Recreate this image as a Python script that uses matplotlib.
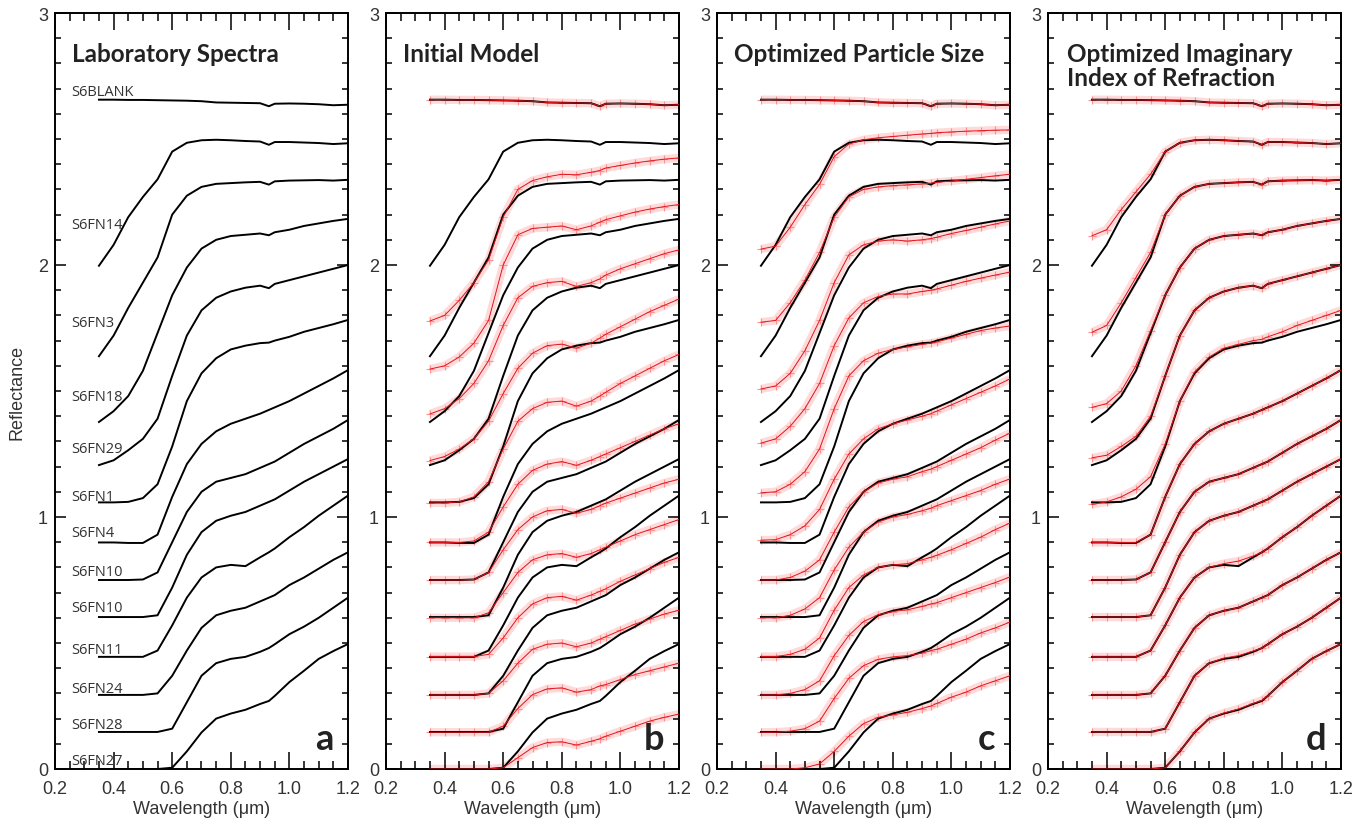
import matplotlib.pyplot as plt
from matplotlib.ticker import MultipleLocator, FixedLocator

# Wavelength grid (um) shared by all spectra
wavelength = [0.35, 0.40, 0.45, 0.50, 0.55, 0.60, 0.65, 0.70, 0.75, 0.80,
              0.85, 0.90, 0.93, 0.95, 1.00, 1.05, 1.10, 1.15, 1.20]

# Laboratory spectra (offset reflectance), top to bottom
lab_blank = [2.656, 2.656, 2.655, 2.655, 2.654, 2.653, 2.652, 2.650, 2.645, 2.644, 2.643, 2.642, 2.630, 2.640, 2.641, 2.640, 2.638, 2.634, 2.636]
lab_fn14 = [1.997, 2.08, 2.19, 2.27, 2.34, 2.45, 2.485, 2.495, 2.497, 2.495, 2.492, 2.49, 2.477, 2.488, 2.488, 2.486, 2.484, 2.48, 2.483]
lab_fn3 = [1.638, 1.72, 1.83, 1.93, 2.03, 2.20, 2.275, 2.31, 2.322, 2.325, 2.328, 2.33, 2.319, 2.332, 2.335, 2.336, 2.337, 2.335, 2.338]
lab_fn18 = [1.377, 1.42, 1.48, 1.58, 1.73, 1.88, 1.99, 2.065, 2.10, 2.115, 2.12, 2.125, 2.118, 2.13, 2.14, 2.155, 2.165, 2.175, 2.183]
lab_fn29 = [1.206, 1.225, 1.265, 1.31, 1.39, 1.56, 1.72, 1.82, 1.87, 1.895, 1.91, 1.918, 1.908, 1.925, 1.94, 1.955, 1.97, 1.985, 2.0]
lab_fn1 = [1.058, 1.058, 1.06, 1.075, 1.13, 1.28, 1.46, 1.57, 1.63, 1.665, 1.68, 1.69, 1.692, 1.70, 1.715, 1.735, 1.75, 1.765, 1.782]
lab_fn4 = [0.899, 0.899, 0.897, 0.897, 0.93, 1.08, 1.21, 1.29, 1.34, 1.37, 1.39, 1.41, 1.425, 1.435, 1.46, 1.49, 1.52, 1.55, 1.583]
lab_fn10a = [0.75, 0.75, 0.75, 0.752, 0.78, 0.90, 1.02, 1.10, 1.14, 1.155, 1.17, 1.195, 1.21, 1.22, 1.255, 1.29, 1.32, 1.35, 1.385]
lab_fn10b = [0.603, 0.603, 0.603, 0.603, 0.61, 0.72, 0.85, 0.94, 0.985, 1.005, 1.02, 1.045, 1.06, 1.07, 1.105, 1.14, 1.17, 1.20, 1.23]
lab_fn11 = [0.445, 0.445, 0.445, 0.445, 0.47, 0.57, 0.68, 0.76, 0.80, 0.81, 0.805, 0.84, 0.86, 0.875, 0.92, 0.96, 1.005, 1.045, 1.085]
lab_fn24 = [0.294, 0.294, 0.294, 0.294, 0.30, 0.37, 0.47, 0.56, 0.61, 0.628, 0.64, 0.665, 0.68, 0.69, 0.73, 0.76, 0.795, 0.83, 0.86]
lab_fn28 = [0.147, 0.147, 0.147, 0.147, 0.147, 0.16, 0.265, 0.37, 0.42, 0.437, 0.445, 0.465, 0.48, 0.495, 0.535, 0.565, 0.60, 0.64, 0.68]
lab_fn27 = [0.0, 0.0, 0.0, 0.0, 0.0, 0.005, 0.07, 0.145, 0.20, 0.22, 0.235, 0.258, 0.27, 0.29, 0.345, 0.39, 0.437, 0.468, 0.496]

lab_spectra = [lab_blank, lab_fn14, lab_fn3, lab_fn18, lab_fn29, lab_fn1, lab_fn4,
               lab_fn10a, lab_fn10b, lab_fn11, lab_fn24, lab_fn28, lab_fn27]

sample_names = ['S6BLANK', 'S6FN14', 'S6FN3', 'S6FN18', 'S6FN29', 'S6FN1', 'S6FN4',
                'S6FN10', 'S6FN10', 'S6FN11', 'S6FN24', 'S6FN28', 'S6FN27']
name_y = [2.69, 2.16, 1.77, 1.48, 1.27, 1.08, 0.94, 0.785, 0.64, 0.475, 0.32, 0.175, 0.035]

# Initial model spectra
init_model = [
    lab_blank,
    [1.778, 1.80, 1.86, 1.93, 2.02, 2.19, 2.30, 2.335, 2.35, 2.36, 2.358, 2.368, 2.375, 2.385, 2.395, 2.405, 2.413, 2.42, 2.425],
    [1.587, 1.60, 1.635, 1.69, 1.78, 2.0, 2.12, 2.145, 2.15, 2.155, 2.14, 2.155, 2.17, 2.18, 2.195, 2.21, 2.222, 2.232, 2.24],
    [1.409, 1.43, 1.47, 1.53, 1.62, 1.76, 1.87, 1.915, 1.93, 1.935, 1.915, 1.93, 1.945, 1.96, 1.985, 2.005, 2.025, 2.045, 2.06],
    [1.224, 1.24, 1.27, 1.31, 1.38, 1.49, 1.59, 1.65, 1.68, 1.686, 1.67, 1.69, 1.71, 1.725, 1.755, 1.785, 1.815, 1.84, 1.865],
    [1.056, 1.056, 1.06, 1.08, 1.14, 1.27, 1.38, 1.43, 1.455, 1.46, 1.44, 1.46, 1.48, 1.495, 1.53, 1.56, 1.59, 1.62, 1.645],
    [0.899, 0.899, 0.899, 0.905, 0.94, 1.04, 1.13, 1.185, 1.21, 1.22, 1.205, 1.225, 1.24, 1.25, 1.275, 1.30, 1.325, 1.35, 1.37],
    [0.75, 0.75, 0.75, 0.752, 0.78, 0.87, 0.95, 1.0, 1.025, 1.03, 1.015, 1.03, 1.045, 1.055, 1.075, 1.095, 1.115, 1.135, 1.15],
    [0.60, 0.60, 0.60, 0.60, 0.62, 0.70, 0.78, 0.83, 0.85, 0.855, 0.84, 0.855, 0.87, 0.88, 0.905, 0.93, 0.95, 0.97, 0.99],
    [0.446, 0.446, 0.446, 0.446, 0.455, 0.52, 0.60, 0.655, 0.68, 0.685, 0.67, 0.69, 0.705, 0.715, 0.745, 0.77, 0.795, 0.82, 0.84],
    [0.294, 0.294, 0.294, 0.294, 0.30, 0.35, 0.42, 0.475, 0.495, 0.50, 0.485, 0.50, 0.515, 0.525, 0.55, 0.575, 0.595, 0.615, 0.63],
    [0.146, 0.146, 0.146, 0.146, 0.146, 0.17, 0.24, 0.295, 0.318, 0.322, 0.305, 0.315, 0.33, 0.335, 0.355, 0.375, 0.39, 0.405, 0.42],
    [0.0, 0.0, 0.0, 0.0, 0.0, 0.005, 0.045, 0.085, 0.105, 0.108, 0.095, 0.11, 0.12, 0.13, 0.15, 0.17, 0.19, 0.205, 0.218],
]

# Model with optimized particle size
size_model = [
    lab_blank,
    [2.063, 2.075, 2.15, 2.24, 2.32, 2.43, 2.48, 2.497, 2.505, 2.51, 2.515, 2.52, 2.522, 2.525, 2.528, 2.531, 2.533, 2.535, 2.536],
    [1.773, 1.78, 1.85, 1.94, 2.05, 2.19, 2.27, 2.30, 2.31, 2.315, 2.318, 2.322, 2.325, 2.328, 2.333, 2.34, 2.347, 2.354, 2.36],
    [1.508, 1.52, 1.57, 1.66, 1.78, 1.93, 2.04, 2.08, 2.095, 2.10, 2.095, 2.10, 2.105, 2.11, 2.125, 2.137, 2.15, 2.163, 2.175],
    [1.293, 1.31, 1.36, 1.43, 1.53, 1.68, 1.79, 1.85, 1.875, 1.885, 1.885, 1.895, 1.90, 1.905, 1.92, 1.935, 1.948, 1.96, 1.972],
    [1.096, 1.10, 1.13, 1.18, 1.27, 1.43, 1.56, 1.62, 1.65, 1.665, 1.675, 1.685, 1.69, 1.695, 1.71, 1.725, 1.74, 1.75, 1.758],
    [0.908, 0.91, 0.93, 0.965, 1.03, 1.15, 1.25, 1.31, 1.35, 1.37, 1.385, 1.40, 1.41, 1.42, 1.445, 1.47, 1.495, 1.52, 1.548],
    [0.75, 0.75, 0.76, 0.785, 0.83, 0.94, 1.04, 1.10, 1.135, 1.15, 1.16, 1.18, 1.19, 1.20, 1.225, 1.25, 1.275, 1.305, 1.333],
    [0.60, 0.60, 0.61, 0.635, 0.68, 0.79, 0.88, 0.94, 0.98, 1.0, 1.01, 1.025, 1.035, 1.045, 1.065, 1.085, 1.105, 1.13, 1.151],
    [0.446, 0.446, 0.455, 0.475, 0.52, 0.63, 0.72, 0.77, 0.80, 0.81, 0.815, 0.83, 0.84, 0.848, 0.87, 0.895, 0.92, 0.95, 0.976],
    [0.294, 0.294, 0.30, 0.315, 0.35, 0.45, 0.53, 0.585, 0.612, 0.625, 0.632, 0.645, 0.655, 0.66, 0.68, 0.70, 0.72, 0.74, 0.762],
    [0.146, 0.146, 0.15, 0.16, 0.19, 0.28, 0.36, 0.41, 0.435, 0.445, 0.45, 0.46, 0.47, 0.475, 0.495, 0.515, 0.54, 0.56, 0.583],
    [0.0, 0.0, 0.0, 0.005, 0.02, 0.07, 0.13, 0.18, 0.205, 0.215, 0.225, 0.24, 0.25, 0.26, 0.285, 0.305, 0.33, 0.35, 0.37],
]

# Model with optimized imaginary index of refraction
index_model = [
    lab_blank,
    [2.116, 2.14, 2.22, 2.29, 2.36, 2.45, 2.485, 2.495, 2.497, 2.495, 2.492, 2.49, 2.478, 2.488, 2.488, 2.486, 2.484, 2.48, 2.483],
    [1.733, 1.76, 1.85, 1.95, 2.05, 2.20, 2.275, 2.31, 2.322, 2.325, 2.328, 2.33, 2.319, 2.332, 2.335, 2.336, 2.337, 2.335, 2.338],
    [1.435, 1.45, 1.50, 1.60, 1.74, 1.88, 1.99, 2.065, 2.10, 2.115, 2.12, 2.125, 2.118, 2.13, 2.14, 2.155, 2.165, 2.175, 2.183],
    [1.235, 1.245, 1.28, 1.32, 1.40, 1.56, 1.72, 1.82, 1.87, 1.895, 1.91, 1.918, 1.908, 1.925, 1.94, 1.955, 1.97, 1.985, 2.0],
    [1.05, 1.06, 1.08, 1.11, 1.16, 1.29, 1.46, 1.575, 1.635, 1.67, 1.685, 1.70, 1.705, 1.715, 1.735, 1.76, 1.78, 1.80, 1.82],
    [0.899, 0.899, 0.899, 0.899, 0.93, 1.08, 1.21, 1.29, 1.34, 1.37, 1.39, 1.41, 1.425, 1.435, 1.46, 1.49, 1.52, 1.55, 1.583],
    [0.75, 0.75, 0.75, 0.752, 0.78, 0.90, 1.02, 1.10, 1.14, 1.155, 1.17, 1.195, 1.21, 1.22, 1.255, 1.29, 1.32, 1.35, 1.385],
    [0.603, 0.603, 0.603, 0.603, 0.61, 0.72, 0.85, 0.94, 0.985, 1.005, 1.02, 1.045, 1.06, 1.07, 1.105, 1.14, 1.17, 1.20, 1.23],
    [0.445, 0.445, 0.445, 0.445, 0.47, 0.57, 0.68, 0.76, 0.80, 0.815, 0.825, 0.845, 0.86, 0.875, 0.92, 0.96, 1.005, 1.045, 1.085],
    [0.294, 0.294, 0.294, 0.294, 0.30, 0.37, 0.47, 0.56, 0.61, 0.628, 0.64, 0.665, 0.68, 0.69, 0.73, 0.76, 0.795, 0.83, 0.86],
    [0.147, 0.147, 0.147, 0.147, 0.147, 0.16, 0.265, 0.37, 0.42, 0.44, 0.45, 0.468, 0.48, 0.495, 0.535, 0.565, 0.60, 0.64, 0.68],
    [0.0, 0.0, 0.0, 0.0, 0.0, 0.005, 0.07, 0.145, 0.20, 0.222, 0.238, 0.26, 0.272, 0.29, 0.345, 0.39, 0.437, 0.468, 0.496],
]

panel_titles = ['Laboratory Spectra', 'Initial Model', 'Optimized Particle Size',
                'Optimized Imaginary\nIndex of Refraction']
panel_letters = ['a', 'b', 'c', 'd']
models = [None, init_model, size_model, index_model]

W, H = 1370, 829
fig = plt.figure(figsize=(W / 100, H / 100), dpi=100)

tick_font = 'Liberation Sans'
title_font = 'Lato'

for i in range(4):
    left = (55 + i * 331) / W
    ax = fig.add_axes([left, 59 / H, 293 / W, 756 / H])

    # model spectra drawn as a pale band of plus markers with a thin red trace
    if models[i] is not None:
        for spec in models[i]:
            ax.plot(wavelength, spec, color='#ffbcbc', lw=6, alpha=0.55,
                    solid_capstyle='butt', zorder=1)
            ax.plot(wavelength, spec, ls='none', marker='+', ms=6, mew=0.8,
                    color='#ff9090', zorder=1.5)

    for spec in lab_spectra:
        ax.plot(wavelength, spec, color='black', lw=1.4, zorder=2)

    if models[i] is not None:
        for spec in models[i]:
            ax.plot(wavelength, spec, color='#e0141c', lw=0.7, zorder=3)

    if i == 0:
        for name, yy in zip(sample_names, name_y):
            ax.text(0.257, yy, name, fontsize=10.5, family='Open Sans',
                    color='#333333', va='center', ha='left')
        ax.set_ylabel('Reflectance', fontsize=13, family=tick_font, color='#333333')
        ax.yaxis.set_label_coords(-0.10, 0.5)

    ax.set_xlim(0.2, 1.2)
    ax.set_ylim(0, 3)
    ax.xaxis.set_minor_locator(MultipleLocator(0.05))
    ax.yaxis.set_major_locator(FixedLocator([0, 1, 2, 3]))
    ax.yaxis.set_minor_locator(MultipleLocator(0.1))
    ax.set_xticks([0.2, 0.4, 0.6, 0.8, 1.0, 1.2])
    ax.set_xticklabels(['0.2', '0.4', '0.6', '0.8', '1.0', '1.2'])
    ax.set_yticklabels(['0', '1', '2', '3'])
    ax.tick_params(which='both', direction='in', top=True, right=True, width=1.1)
    ax.tick_params(axis='x', which='major', length=12, pad=8)
    ax.tick_params(axis='x', which='minor', length=6)
    ax.tick_params(axis='y', which='major', length=8, pad=5)
    ax.tick_params(axis='y', which='minor', length=4)
    for lab in ax.get_xticklabels() + ax.get_yticklabels():
        lab.set_family(tick_font)
        lab.set_fontsize(13)
        lab.set_color('#333333')
    for sp in ax.spines.values():
        sp.set_linewidth(1.4)

    ax.set_xlabel('Wavelength (\u03bcm)', fontsize=13, family=tick_font,
                  color='#333333', labelpad=2)

    ax.text(0.058 if i < 3 else 0.065, 0.962, panel_titles[i], transform=ax.transAxes,
            fontsize=17.5, fontweight='bold', family=title_font, color='#222222',
            ha='left', va='top', linespacing=1.05)
    ax.text(0.95, 0.018, panel_letters[i], transform=ax.transAxes,
            fontsize=26, fontweight='bold', family=title_font, color='#222222',
            ha='right', va='bottom')

fig.savefig('out.png', dpi=100)
